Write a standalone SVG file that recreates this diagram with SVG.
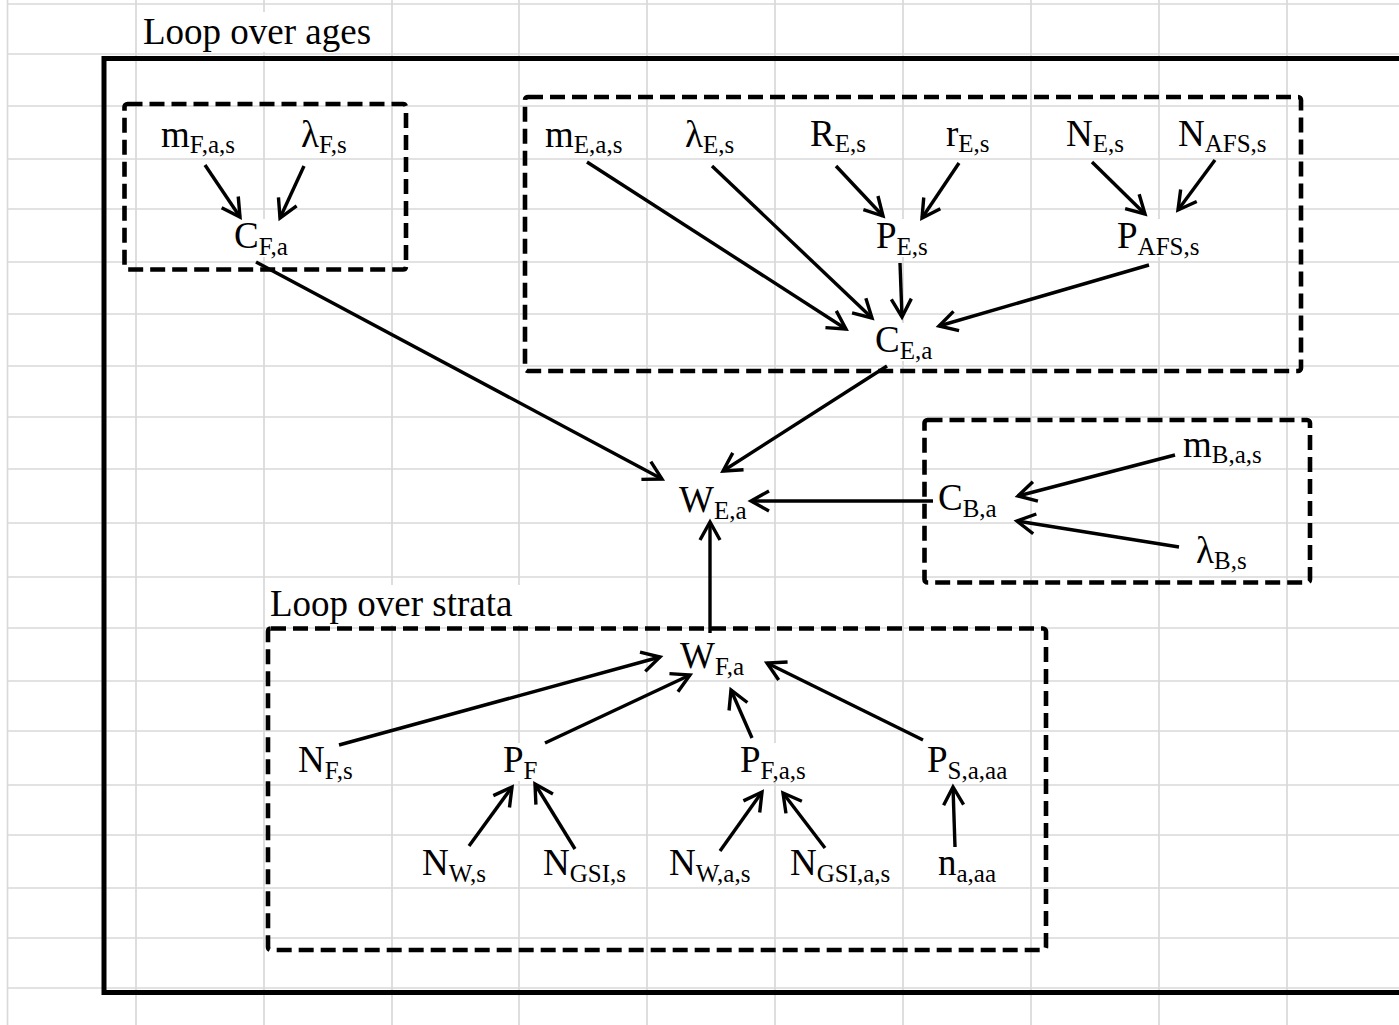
<svg xmlns="http://www.w3.org/2000/svg" width="1399" height="1025" viewBox="0 0 1399 1025">
  <style>
    .grid line { stroke: #d9d9d9; stroke-width: 1.7; }
    .lbl { font-family: "Liberation Serif", "Times New Roman", serif; font-size: 37px; fill: #000; }
    .title { font-family: "Liberation Serif", "Times New Roman", serif; font-size: 37px; fill: #000; }
    .sub { font-size: 25px; }
    .bg { fill: #fff; }
    .outer { fill: none; stroke: #000; stroke-width: 5; }
    .loop { fill: none; stroke: #000; stroke-width: 4.6; stroke-dasharray: 15 7; }
    .conn path { fill: none; stroke: #000; stroke-width: 3.4; marker-end: url(#arrow); }
  </style>
  <defs>
    <marker id="arrow" viewBox="0 0 24 24" markerUnits="userSpaceOnUse" markerWidth="24" markerHeight="24" refX="20" refY="12" orient="auto" overflow="visible">
      <path d="M2,2 L20,12 L2,22" fill="none" stroke="#000" stroke-width="3.4" stroke-linejoin="miter"/>
    </marker>
  </defs>

  <rect width="1399" height="1025" fill="#fff"/>

  <!-- spreadsheet cell grid -->
  <g class="grid">
    <line x1="7.5" y1="0" x2="7.5" y2="1025"/>
    <line x1="136" y1="0" x2="136" y2="1025"/>
    <line x1="264" y1="0" x2="264" y2="1025"/>
    <line x1="392" y1="0" x2="392" y2="1025"/>
    <line x1="519" y1="0" x2="519" y2="1025"/>
    <line x1="647" y1="0" x2="647" y2="1025"/>
    <line x1="775" y1="0" x2="775" y2="1025"/>
    <line x1="903" y1="0" x2="903" y2="1025"/>
    <line x1="1031" y1="0" x2="1031" y2="1025"/>
    <line x1="1159" y1="0" x2="1159" y2="1025"/>
    <line x1="1287" y1="0" x2="1287" y2="1025"/>
    <line x1="7.5" y1="4" x2="1399" y2="4"/>
    <line x1="7.5" y1="54" x2="1399" y2="54"/>
    <line x1="7.5" y1="106" x2="1399" y2="106"/>
    <line x1="7.5" y1="159" x2="1399" y2="159"/>
    <line x1="7.5" y1="209" x2="1399" y2="209"/>
    <line x1="7.5" y1="262" x2="1399" y2="262"/>
    <line x1="7.5" y1="314" x2="1399" y2="314"/>
    <line x1="7.5" y1="366" x2="1399" y2="366"/>
    <line x1="7.5" y1="417" x2="1399" y2="417"/>
    <line x1="7.5" y1="469" x2="1399" y2="469"/>
    <line x1="7.5" y1="523" x2="1399" y2="523"/>
    <line x1="7.5" y1="577" x2="1399" y2="577"/>
    <line x1="7.5" y1="628" x2="1399" y2="628"/>
    <line x1="7.5" y1="681" x2="1399" y2="681"/>
    <line x1="7.5" y1="731" x2="1399" y2="731"/>
    <line x1="7.5" y1="785" x2="1399" y2="785"/>
    <line x1="7.5" y1="835" x2="1399" y2="835"/>
    <line x1="7.5" y1="888" x2="1399" y2="888"/>
    <line x1="7.5" y1="938" x2="1399" y2="938"/>
    <line x1="7.5" y1="988" x2="1399" y2="988"/>
  </g>

  <!-- loop captions -->
  <g id="caption-ages">
    <rect class="bg" x="140" y="12" width="238" height="40"/>
    <text class="title" x="143" y="44">Loop over ages</text>
  </g>
  <g id="caption-strata">
    <rect class="bg" x="267" y="585" width="255" height="40"/>
    <text class="title" x="270" y="616">Loop over strata</text>
  </g>

  <!-- fishery block -->
  <g id="n-mFas"><rect class="bg" x="159" y="118" width="79" height="38"/><text class="lbl" x="161" y="147">m<tspan class="sub" dy="6">F,a,s</tspan></text></g>
  <g id="n-lamFs"><rect class="bg" x="299" y="118" width="55" height="38"/><text class="lbl" x="301" y="147">λ<tspan class="sub" dy="6">F,s</tspan></text></g>
  <g id="n-CFa"><rect class="bg" x="232" y="219" width="60" height="38"/><text class="lbl" x="234" y="248">C<tspan class="sub" dy="7">F,a</tspan></text></g>

  <!-- survey block -->
  <g id="n-mEas"><rect class="bg" x="543" y="118" width="81" height="38"/><text class="lbl" x="545" y="147">m<tspan class="sub" dy="6">E,a,s</tspan></text></g>
  <g id="n-lamEs"><rect class="bg" x="683" y="118" width="56" height="38"/><text class="lbl" x="685" y="147">λ<tspan class="sub" dy="6">E,s</tspan></text></g>
  <g id="n-REs"><rect class="bg" x="808" y="117" width="60" height="38"/><text class="lbl" x="810" y="146">R<tspan class="sub" dy="6">E,s</tspan></text></g>
  <g id="n-rEs"><rect class="bg" x="944" y="117" width="48" height="38"/><text class="lbl" x="946" y="146">r<tspan class="sub" dy="6">E,s</tspan></text></g>
  <g id="n-NEs"><rect class="bg" x="1064" y="117" width="62" height="38"/><text class="lbl" x="1066" y="146">N<tspan class="sub" dy="6">E,s</tspan></text></g>
  <g id="n-NAFSs"><rect class="bg" x="1176" y="117" width="94" height="38"/><text class="lbl" x="1178" y="146">N<tspan class="sub" dy="6">AFS,s</tspan></text></g>
  <g id="n-PEs"><rect class="bg" x="874" y="219" width="56" height="38"/><text class="lbl" x="876" y="248">P<tspan class="sub" dy="7">E,s</tspan></text></g>
  <g id="n-PAFSs"><rect class="bg" x="1115" y="219" width="88" height="38"/><text class="lbl" x="1117" y="248">P<tspan class="sub" dy="7">AFS,s</tspan></text></g>
  <g id="n-CEa"><rect class="bg" x="873" y="323" width="61" height="38"/><text class="lbl" x="875" y="352">C<tspan class="sub" dy="7">E,a</tspan></text></g>

  <!-- estimated weight -->
  <g id="n-WEa"><rect class="bg" x="677" y="483" width="71" height="38"/><text class="lbl" x="679" y="512">W<tspan class="sub" dy="7">E,a</tspan></text></g>

  <!-- bycatch block -->
  <g id="n-CBa"><rect class="bg" x="936" y="481" width="63" height="38"/><text class="lbl" x="938" y="510">C<tspan class="sub" dy="7">B,a</tspan></text></g>
  <g id="n-mBas"><rect class="bg" x="1181" y="428" width="82" height="38"/><text class="lbl" x="1183" y="457">m<tspan class="sub" dy="6">B,a,s</tspan></text></g>
  <g id="n-lamBs"><rect class="bg" x="1194" y="534" width="57" height="38"/><text class="lbl" x="1196" y="563">λ<tspan class="sub" dy="6">B,s</tspan></text></g>

  <!-- strata block -->
  <g id="n-WFa"><rect class="bg" x="678" y="639" width="70" height="38"/><text class="lbl" x="680" y="668">W<tspan class="sub" dy="7">F,a</tspan></text></g>
  <g id="n-NFs"><rect class="bg" x="296" y="743" width="61" height="38"/><text class="lbl" x="298" y="772">N<tspan class="sub" dy="7">F,s</tspan></text></g>
  <g id="n-PF"><rect class="bg" x="501" y="743" width="39" height="38"/><text class="lbl" x="503" y="772">P<tspan class="sub" dy="7">F</tspan></text></g>
  <g id="n-PFas"><rect class="bg" x="738" y="743" width="71" height="38"/><text class="lbl" x="740" y="772">P<tspan class="sub" dy="7">F,a,s</tspan></text></g>
  <g id="n-PSaaa"><rect class="bg" x="925" y="743" width="86" height="38"/><text class="lbl" x="927" y="772">P<tspan class="sub" dy="7">S,a,aa</tspan></text></g>
  <g id="n-NWs"><rect class="bg" x="420" y="846" width="70" height="38"/><text class="lbl" x="422" y="875">N<tspan class="sub" dy="7">W,s</tspan></text></g>
  <g id="n-NGSIs"><rect class="bg" x="541" y="846" width="86" height="38"/><text class="lbl" x="543" y="875">N<tspan class="sub" dy="7">GSI,s</tspan></text></g>
  <g id="n-NWas"><rect class="bg" x="667" y="846" width="87" height="38"/><text class="lbl" x="669" y="875">N<tspan class="sub" dy="7">W,a,s</tspan></text></g>
  <g id="n-NGSIas"><rect class="bg" x="788" y="846" width="103" height="38"/><text class="lbl" x="790" y="875">N<tspan class="sub" dy="7">GSI,a,s</tspan></text></g>
  <g id="n-naaa"><rect class="bg" x="936" y="846" width="62" height="38"/><text class="lbl" x="938" y="875">n<tspan class="sub" dy="7">a,aa</tspan></text></g>

  <!-- loop frames -->
  <g id="frames">
    <path class="outer" d="M1405,58.5 H104 V992.5 H1405"/>
    <rect class="loop" x="124.5" y="104" width="281.5" height="165.5" rx="3"/>
    <rect class="loop" x="525" y="97" width="776" height="274" rx="3"/>
    <rect class="loop" x="924.5" y="420" width="385.5" height="162.5" rx="3"/>
    <rect class="loop" x="268" y="628.5" width="778" height="321.5" rx="3"/>
  </g>

  <!-- connectors -->
  <g id="connectors" class="conn">
    <path d="M205,165 L240,217"/>
    <path d="M304,166 L280,218"/>
    <path d="M256,262 L662,479"/>
    <path d="M587,162 L846,329"/>
    <path d="M712,166 L872,318"/>
    <path d="M836,166 L883,216"/>
    <path d="M959,163 L922,218"/>
    <path d="M1092,162 L1145,214"/>
    <path d="M1215,160 L1178,210"/>
    <path d="M900,263 L902,317"/>
    <path d="M1149,265 L939,326"/>
    <path d="M887,366 L723,471"/>
    <path d="M933,501 L751,501"/>
    <path d="M1175,455 L1018,496"/>
    <path d="M1179,547 L1017,521"/>
    <path d="M710,633 L710,522"/>
    <path d="M339,745 L660,657"/>
    <path d="M545,743 L690,675"/>
    <path d="M752,738 L731,690"/>
    <path d="M923,740 L767,663"/>
    <path d="M469,846 L512,787"/>
    <path d="M575,849 L535,784"/>
    <path d="M720,851 L762,792"/>
    <path d="M825,848 L783,793"/>
    <path d="M955,847 L953,787"/>
  </g>
</svg>
